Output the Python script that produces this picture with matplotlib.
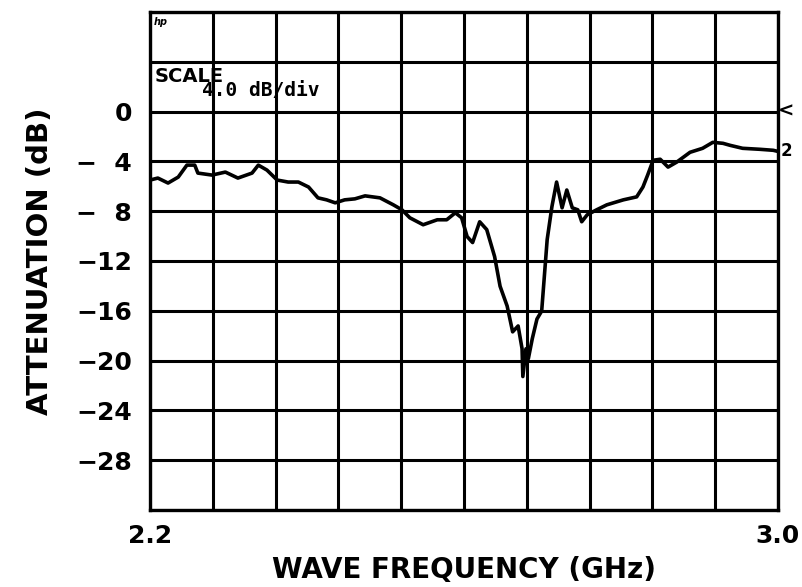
import numpy as np
import matplotlib
matplotlib.use('Agg')
import matplotlib.pyplot as plt

# attenuation trace
freq = [2.200, 2.210, 2.223, 2.236, 2.247, 2.257, 2.261, 2.279, 2.296, 2.312,
        2.330, 2.338, 2.349, 2.362, 2.376, 2.389, 2.402, 2.414, 2.425, 2.436,
        2.448, 2.461, 2.474, 2.493, 2.510, 2.521, 2.531, 2.548, 2.566, 2.578,
        2.589, 2.597, 2.604, 2.611, 2.620, 2.629, 2.639, 2.646, 2.655, 2.662,
        2.669, 2.674, 2.675, 2.679, 2.682, 2.687, 2.693, 2.699, 2.706, 2.712,
        2.718, 2.725, 2.731, 2.738, 2.745, 2.750, 2.757, 2.769, 2.782, 2.803,
        2.820, 2.828, 2.834, 2.841, 2.850, 2.860, 2.871, 2.888, 2.904, 2.917,
        2.930, 2.939, 2.955, 2.977, 2.994, 3.000]
atten = [-5.50, -5.34, -5.74, -5.26, -4.30, -4.30, -4.94, -5.10, -4.86, -5.34,
         -4.94, -4.30, -4.70, -5.50, -5.66, -5.66, -6.06, -6.93, -7.09, -7.33,
         -7.09, -7.01, -6.77, -6.93, -7.49, -7.89, -8.53, -9.09, -8.69, -8.69,
         -8.13, -8.53, -10.04, -10.52, -8.85, -9.48, -11.64, -14.03, -15.62, -17.69,
         -17.22, -19.05, -21.28, -19.05, -19.85, -18.25, -16.66, -16.02, -10.28, -7.65,
         -5.66, -7.73, -6.30, -7.73, -7.89, -8.85, -8.29, -7.89, -7.49, -7.09,
         -6.85, -6.06, -5.10, -3.91, -3.83, -4.46, -4.06, -3.27, -2.95, -2.47,
         -2.55, -2.71, -2.95, -3.03, -3.11, -3.20]

yticks = [0, -4, -8, -12, -16, -20, -24, -28]
ytick_labels = ['0', '\u2212\u20074', '\u2212\u20078', '\u221212', '\u221216',
                '\u221220', '\u221224', '\u221228']
xticks = [2.2, 3.0]
xtick_labels = ['2.2', '3.0']

fig = plt.figure(figsize=(8.03, 5.87), dpi=100)
ax = fig.add_axes([0.1868, 0.1312, 0.782, 0.8484])

ax.set_xlim(2.2, 3.0)
ax.set_ylim(-32, 8)

# 10 x 10 division grid
ax.set_xticks(np.linspace(2.2, 3.0, 11), minor=True)
ax.set_yticks(np.arange(-32, 9, 4), minor=True)
ax.set_xticks(xticks)
ax.set_xticklabels(xtick_labels)
ax.set_yticks(yticks)
ax.set_yticklabels(ytick_labels)
ax.grid(which='both', color='black', linewidth=2.2)
ax.tick_params(which='both', length=0)
ax.tick_params(which='major', labelsize=18, pad=10)
ax.tick_params(axis='y', pad=13)
for lab in ax.get_xticklabels() + ax.get_yticklabels():
    lab.set_fontweight('bold')
for s in ax.spines.values():
    s.set_linewidth(2.4)

ax.plot(freq, atten, color='black', linewidth=2.6, solid_joinstyle='round')

ax.set_xlabel('WAVE FREQUENCY (GHz)', fontsize=20, fontweight='bold', labelpad=6)
ax.set_ylabel('ATTENUATION (dB)', fontsize=21, fontweight='bold', labelpad=16)

ax.text(0.008, 0.859, 'SCALE', transform=ax.transAxes, fontsize=14,
        fontweight='bold', va='baseline', ha='left')
ax.text(0.083, 0.831, '4.0 dB/div', transform=ax.transAxes, fontsize=14,
        family='DejaVu Sans Mono', fontweight='bold', va='baseline', ha='left')
ax.text(0.006, 0.99, 'hp', transform=ax.transAxes, fontsize=7,
        fontweight='bold', style='italic', va='top', ha='left')
ax.text(1.0, 0.0, '<', transform=ax.get_yaxis_transform(), fontsize=14,
        fontweight='bold', va='center', ha='left', clip_on=False)
ax.text(1.005, atten[-1], '2', transform=ax.get_yaxis_transform(), fontsize=12,
        fontweight='bold', va='center', ha='left', clip_on=False)

fig.savefig('out.png', dpi=100)
